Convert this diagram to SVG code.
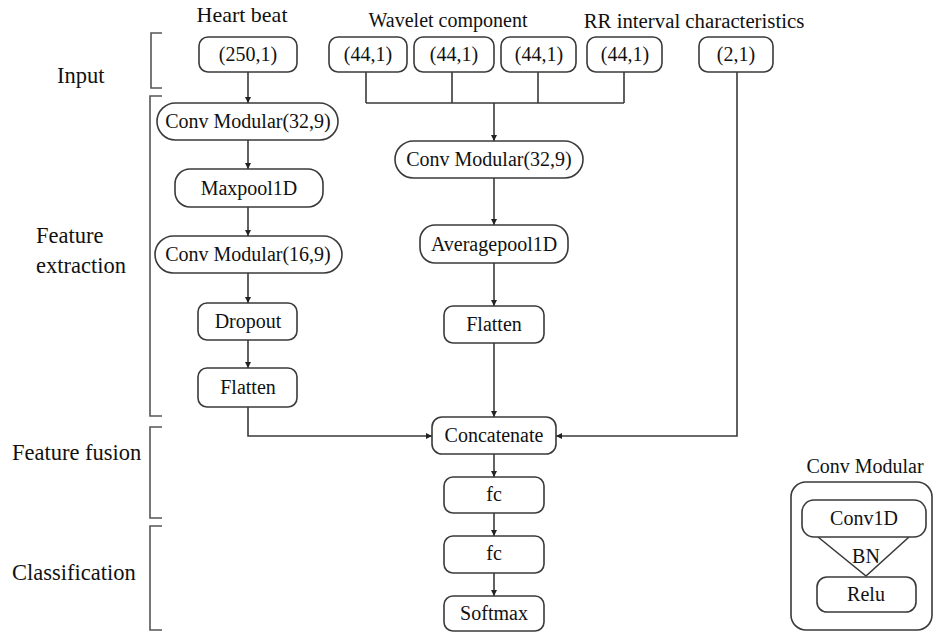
<svg xmlns="http://www.w3.org/2000/svg" width="934" height="632" viewBox="0 0 934 632">
<defs>
<style>
.box{fill:#fff;stroke:#3a3a3a;stroke-width:1.6}
.t{font-size:20px;fill:#111;text-anchor:middle}
.lab{font-size:22.5px;fill:#111}
.hd{fill:#111;text-anchor:middle}
.ln{fill:none;stroke:#3a3a3a;stroke-width:1.6}
.br{fill:none;stroke:#555;stroke-width:1.6}
</style>
<marker id="ah" viewBox="0 0 10 10" refX="10" refY="5" markerWidth="6" markerHeight="6" markerUnits="userSpaceOnUse" orient="auto">
<path d="M0,0 L10,5 L0,10 z" fill="#222"/>
</marker>
</defs>
<rect width="934" height="632" fill="#fff"/>
<g font-family="Liberation Serif, serif">

<g id="headers">
<text class="hd" x="242" y="22" font-size="22">Heart beat</text>
<text class="hd" x="448" y="27" font-size="20">Wavelet component</text>
<text class="hd" x="694" y="28" font-size="20.8">RR interval characteristics</text>
</g>

<g id="section-labels">
<text class="lab" x="57" y="83">Input</text>
<text class="lab" x="36" y="243">Feature</text>
<text class="lab" x="36" y="273">extraction</text>
<text class="lab" x="12" y="460">Feature fusion</text>
<text class="lab" x="12" y="580">Classification</text>
</g>

<g id="brackets">
<path class="br" d="M162,33 H151 V88 H162"/>
<path class="br" d="M162,96 H150 V416 H162"/>
<path class="br" d="M162,427 H150 V518 H162"/>
<path class="br" d="M162,526 H150 V630 H162"/>
</g>

<g id="connectors">
<path class="ln" d="M248,72 V103" marker-end="url(#ah)"/>
<path class="ln" d="M248,140 V169" marker-end="url(#ah)"/>
<path class="ln" d="M248,207 V236" marker-end="url(#ah)"/>
<path class="ln" d="M248,273 V303" marker-end="url(#ah)"/>
<path class="ln" d="M248,340 V368" marker-end="url(#ah)"/>
<path class="ln" d="M248,407 V436 H432" marker-end="url(#ah)"/>
<path class="ln" d="M366,72 V103 M452,72 V103 M538,72 V103 M624,72 V103 M366,103 H624"/>
<path class="ln" d="M494,103 V141" marker-end="url(#ah)"/>
<path class="ln" d="M494,178 V225" marker-end="url(#ah)"/>
<path class="ln" d="M494,263 V306" marker-end="url(#ah)"/>
<path class="ln" d="M494,343 V417" marker-end="url(#ah)"/>
<path class="ln" d="M737,72 V436 H556" marker-end="url(#ah)"/>
<path class="ln" d="M494,454 V477" marker-end="url(#ah)"/>
<path class="ln" d="M494,513 V536" marker-end="url(#ah)"/>
<path class="ln" d="M494,573 V596" marker-end="url(#ah)"/>
</g>

<g id="in-heart"><rect class="box" x="199" y="37" width="98" height="35" rx="9"/><text class="t" x="248" y="61">(250,1)</text></g>
<g id="in-w1"><rect class="box" x="329" y="37" width="78" height="35" rx="9"/><text class="t" x="368" y="61">(44,1)</text></g>
<g id="in-w2"><rect class="box" x="414" y="37" width="80" height="35" rx="9"/><text class="t" x="454" y="61">(44,1)</text></g>
<g id="in-w3"><rect class="box" x="501" y="37" width="75" height="35" rx="9"/><text class="t" x="539" y="61">(44,1)</text></g>
<g id="in-w4"><rect class="box" x="587" y="37" width="75" height="35" rx="9"/><text class="t" x="625" y="61">(44,1)</text></g>
<g id="in-rr"><rect class="box" x="699" y="37" width="74" height="35" rx="9"/><text class="t" x="736" y="61">(2,1)</text></g>

<g id="conv-a1"><rect class="box" x="157" y="103" width="181" height="37" rx="18.5"/><text class="t" x="248" y="128">Conv Modular(32,9)</text></g>
<g id="maxpool"><rect class="box" x="175" y="169" width="148" height="38" rx="15"/><text class="t" x="249" y="195">Maxpool1D</text></g>
<g id="conv-a2"><rect class="box" x="155" y="236" width="187" height="37" rx="18.5"/><text class="t" x="248" y="261">Conv Modular(16,9)</text></g>
<g id="dropout"><rect class="box" x="198" y="303" width="99" height="37" rx="9"/><text class="t" x="248" y="328">Dropout</text></g>
<g id="flatten-a"><rect class="box" x="198" y="368" width="99" height="39" rx="9"/><text class="t" x="248" y="394">Flatten</text></g>

<g id="conv-b"><rect class="box" x="395" y="141" width="188" height="37" rx="18.5"/><text class="t" x="489" y="166">Conv Modular(32,9)</text></g>
<g id="avgpool"><rect class="box" x="420" y="225" width="148" height="38" rx="15"/><text class="t" x="494" y="251">Averagepool1D</text></g>
<g id="flatten-b"><rect class="box" x="444" y="306" width="100" height="37" rx="9"/><text class="t" x="494" y="331">Flatten</text></g>

<g id="concat"><rect class="box" x="432" y="417" width="124" height="37" rx="10"/><text class="t" x="494" y="442">Concatenate</text></g>
<g id="fc1"><rect class="box" x="444" y="477" width="100" height="36" rx="9"/><text class="t" x="494" y="501">fc</text></g>
<g id="fc2"><rect class="box" x="444" y="536" width="100" height="37" rx="9"/><text class="t" x="494" y="560">fc</text></g>
<g id="softmax"><rect class="box" x="444" y="596" width="100" height="35" rx="9"/><text class="t" x="494" y="620">Softmax</text></g>

<g id="legend">
<text class="t" x="865" y="473">Conv Modular</text>
<rect class="box" x="791" y="482" width="141" height="148" rx="15"/>
<path class="ln" d="M818,537 L866,576 L909,537"/>
<rect class="box" x="802" y="500" width="124" height="37" rx="12"/>
<text class="t" x="864" y="525">Conv1D</text>
<text class="t" x="866" y="563">BN</text>
<rect class="box" x="817" y="577" width="99" height="35" rx="10"/>
<text class="t" x="866" y="601">Relu</text>
</g>
</g>
</svg>
